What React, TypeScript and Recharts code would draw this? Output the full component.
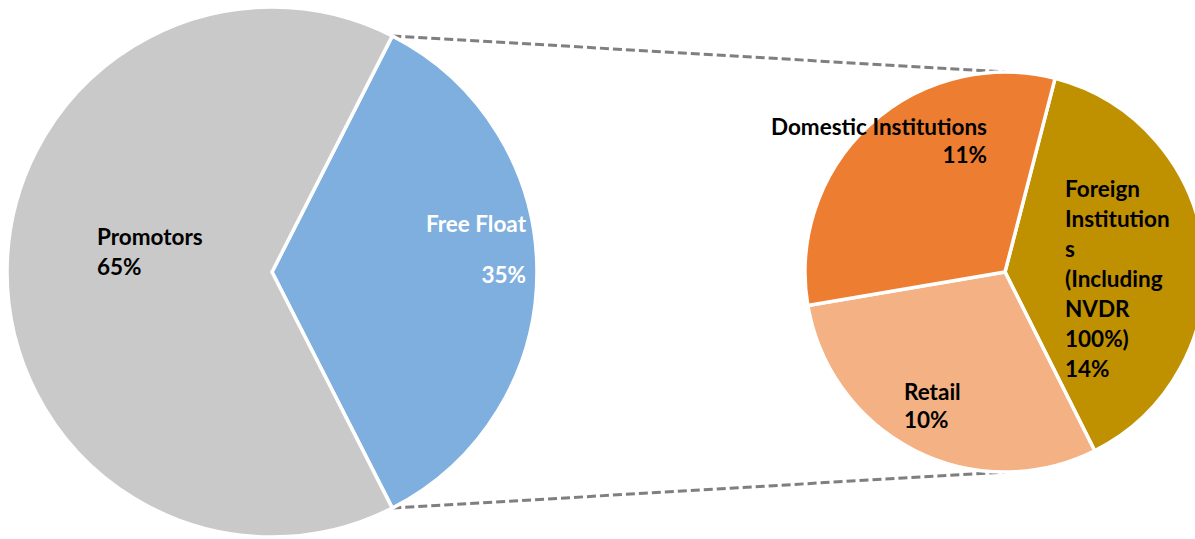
import { Pie, PieChart, Cell } from "recharts";

// Shareholding split (percent of total)
const mainNames = ["Free Float", "Promotors"];
const mainValues = [35, 65];
const mainColors = ["#7FAFDE", "#C9C9C9"];

// Free float breakdown (percent of total)
const floatNames = ["Foreign Institutions (Including NVDR 100%)", "Retail", "Domestic Institutions"];
const floatValues = [13.5, 10.4, 11.1];
const floatColors = ["#BF9000", "#F4B183", "#ED7D31"];

const W = 1195;
const H = 539;
const FONT = "Lato, 'Open Sans', sans-serif";

// geometry
const L = { cx: 272, cy: 272, r: 265 };
const R = { cx: 1005, cy: 272, r: 200 };
const mainStart = (mainValues[0] / 100) * 180;
const floatStart = 75.5;

const mainData = mainNames.map((name, i) => ({ name, value: mainValues[i] }));
const floatData = floatNames.map((name, i) => ({ name, value: floatValues[i] }));

// label text lines + placement (anchor point, alignment, line gap, colour)
const labelSpec: Record<string, { x: number; y: number; anchor: string; gap: number; fill: string; lines: string[] }> = {
  Promotors: { x: 97, y: 245, anchor: "start", gap: 30, fill: "#000", lines: ["Promotors"] },
  "Free Float": { x: 526, y: 232, anchor: "end", gap: 51, fill: "#fff", lines: ["Free Float"] },
  "Domestic Institutions": { x: 987, y: 135, anchor: "end", gap: 28, fill: "#000", lines: ["Domestic Institutions"] },
  Retail: { x: 904, y: 400, anchor: "start", gap: 28, fill: "#000", lines: ["Retail"] },
  "Foreign Institutions (Including NVDR 100%)": {
    x: 1065,
    y: 197,
    anchor: "start",
    gap: 30,
    fill: "#000",
    lines: ["Foreign", "Institution", "s", "(Including", "NVDR", "100%)"],
  },
};

function renderLabel(props: any) {
  const name = props.name ?? props.payload?.name;
  const spec = labelSpec[name];
  if (!spec) return null;
  const lines = [...spec.lines, `${Math.round(props.value)}%`];
  return (
    <text
      key={name}
      x={spec.x}
      y={spec.y}
      textAnchor={spec.anchor as any}
      fill={spec.fill}
      fontFamily={FONT}
      fontWeight={700}
      fontSize={22.5}
    >
      {lines.map((t, i) => (
        <tspan key={i} x={spec.x} dy={i === 0 ? 0 : spec.gap}>
          {t}
        </tspan>
      ))}
    </text>
  );
}

export default function App() {
  const rad = (mainStart * Math.PI) / 180;
  const topL = { x: L.cx + L.r * Math.cos(rad), y: L.cy - L.r * Math.sin(rad) };
  const botL = { x: topL.x, y: L.cy + L.r * Math.sin(rad) };

  return (
    <div style={{ position: "absolute", left: 0, top: 0, width: W, height: H, background: "#fff" }}>
      <svg width={W} height={H} style={{ position: "absolute", left: 0, top: 0 }}>
        <line x1={topL.x} y1={topL.y} x2={R.cx} y2={R.cy - R.r} stroke="#7F7F7F" strokeWidth={3} strokeDasharray="9 4" />
        <line x1={botL.x} y1={botL.y} x2={R.cx} y2={R.cy + R.r} stroke="#7F7F7F" strokeWidth={3} strokeDasharray="9 4" />
      </svg>
      <div style={{ position: "absolute", left: 0, top: 0 }}>
        <PieChart width={W} height={H} margin={{ top: 0, right: 0, bottom: 0, left: 0 }}>
          <Pie
            data={mainData}
            dataKey="value"
            nameKey="name"
            cx={L.cx}
            cy={L.cy}
            outerRadius={L.r}
            startAngle={mainStart}
            endAngle={mainStart - 360}
            stroke="#fff"
            strokeWidth={3.5}
            labelLine={false}
            label={renderLabel}
            isAnimationActive={false}
          >
            {mainData.map((d, i) => (
              <Cell key={d.name} fill={mainColors[i]} />
            ))}
          </Pie>
          <Pie
            data={floatData}
            dataKey="value"
            nameKey="name"
            cx={R.cx}
            cy={R.cy}
            outerRadius={R.r}
            startAngle={floatStart}
            endAngle={floatStart - 360}
            stroke="#fff"
            strokeWidth={3.5}
            labelLine={false}
            label={renderLabel}
            isAnimationActive={false}
          >
            {floatData.map((d, i) => (
              <Cell key={d.name} fill={floatColors[i]} />
            ))}
          </Pie>
        </PieChart>
      </div>
    </div>
  );
}
